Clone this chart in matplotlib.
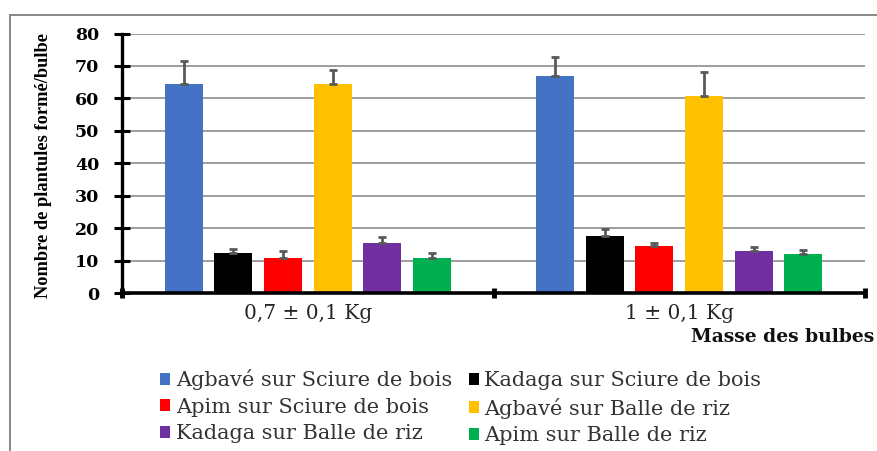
import matplotlib
matplotlib.use("Agg")
import matplotlib.pyplot as plt
from matplotlib.patches import Rectangle, Patch
import numpy as np

# Data
categories = ["0,7 ± 0,1 Kg", "1 ± 0,1 Kg"]
series = [
    "Agbavé sur Sciure de bois",
    "Kadaga sur Sciure de bois",
    "Apim sur Sciure de bois",
    "Agbavé sur Balle de riz",
    "Kadaga sur Balle de riz",
    "Apim sur Balle de riz",
]
means = [
    [64.4, 66.8],
    [12.3, 17.6],
    [10.7, 14.5],
    [64.5, 60.8],
    [15.4, 13.0],
    [10.9, 12.1],
]
errors = [
    [7.0, 6.0],
    [1.2, 2.2],
    [2.3, 1.0],
    [4.4, 7.3],
    [2.0, 1.2],
    [1.4, 1.2],
]
colors = ["#4472C4", "#000000", "#FF0000", "#FFC000", "#7030A0", "#00B050"]
yticks = [0, 10, 20, 30, 40, 50, 60, 70, 80]

W, H = 877, 451
fig = plt.figure(figsize=(W / 100, H / 100), dpi=100)
ax = fig.add_axes([122 / W, 1 - 293 / H, (865 - 122) / W, (293 - 33.5) / H])

x = np.arange(len(categories)) + 0.5
step = 0.1337
width = 0.1025
for i, (name, m, e, c) in enumerate(zip(series, means, errors, colors)):
    xs = x + (i - 2.5) * step
    ax.bar(xs, m, width=width, color=c, label=name, zorder=3)
    ax.errorbar(xs, m, yerr=[np.zeros(len(e)), e], fmt="none", ecolor="#595959",
                elinewidth=2.0, capsize=3.0, capthick=2.0, zorder=4)

ax.set_xlim(0, 2)
ax.set_ylim(0, 80)
ax.set_yticks(yticks)
ax.yaxis.grid(True, color="#8c8c8c", linewidth=1.2, zorder=0)
ax.set_axisbelow(True)

# spines
for s in ["top", "right"]:
    ax.spines[s].set_visible(False)
ax.spines["left"].set_linewidth(2.4)
ax.spines["bottom"].set_linewidth(2.6)
ax.spines["left"].set_zorder(5)
ax.spines["bottom"].set_zorder(5)

# y ticks: crossing marks, bold serif labels
ax.tick_params(axis="y", direction="inout", length=11.5, width=2.2, pad=10.5,
               labelsize=12.5, colors="black")
for lbl in ax.get_yticklabels():
    lbl.set_fontfamily("DejaVu Serif")
    lbl.set_fontweight("bold")

# x ticks: labels at category centres, cross marks at category boundaries
ax.set_xticks(x)
ax.set_xticklabels(categories, fontfamily="DejaVu Serif", fontsize=14.5, color="#262626")
ax.tick_params(axis="x", which="major", length=0, pad=8)
ax.set_xticks([0, 1, 2], minor=True)
ax.tick_params(axis="x", which="minor", direction="inout", length=7, width=3.5, color="black")

ax.set_ylabel("Nombre de plantules formé/bulbe", fontfamily="Liberation Serif",
              fontweight="bold", fontsize=13.2)
ax.yaxis.set_label_coords(-0.094, 0.49)

fig.text(874 / W, 1 - 337 / H, "Masse des bulbes", fontfamily="DejaVu Serif",
         fontweight="bold", fontsize=13.5, ha="right", va="center", color="#111111")

# legend laid out row by row
handles = [Patch(facecolor=c, edgecolor="none") for c in colors]
order = [0, 2, 4, 1, 3, 5]
leg = fig.legend([handles[k] for k in order], [series[k] for k in order],
                 ncol=2, loc="upper left", bbox_to_anchor=(160 / W, 1 - 369 / H),
                 frameon=False, prop={"family": "DejaVu Serif", "size": 15},
                 handlelength=0.5, handleheight=0.5, handletextpad=0.25,
                 columnspacing=0.8, labelspacing=0.37, borderpad=0, borderaxespad=0)
for t in leg.get_texts():
    t.set_color("#333333")

# outer frame
fig.patches.append(Rectangle((10 / W, -0.1), 1.2, 1.1 - 15 / H, transform=fig.transFigure,
                             fill=False, edgecolor="#7f7f7f", linewidth=1.3, zorder=0))

fig.savefig("out.png", dpi=100)
